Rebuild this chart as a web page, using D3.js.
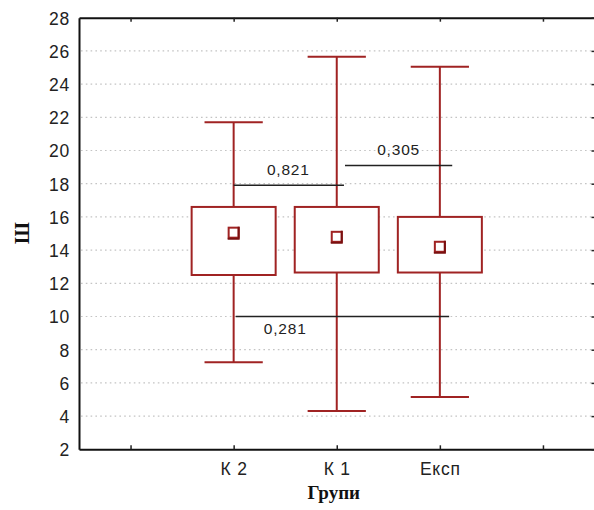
<!DOCTYPE html>
<html>
<head>
<meta charset="utf-8">
<script src="https://cdn.jsdelivr.net/npm/d3@7"></script>
<style>
  html, body { margin: 0; padding: 0; background: #fff; }
  svg { display: block; }
</style>
</head>
<body>
<svg id="chart" width="594" height="510"></svg>
<script>
// Groups and their summary statistics
const groups = ["К 2", "К 1", "Експ"];
const means = [15.05, 14.8, 14.2];
const boxLow = [12.5, 12.65, 12.65];
const boxHigh = [16.6, 16.6, 16.0];
const whiskerLow = [7.25, 4.3, 5.15];
const whiskerHigh = [21.7, 25.65, 25.05];

// Pairwise comparison p-values, the level their bracket is drawn at and its span (group units)
const pLabels = ["0,821", "0,305", "0,281"];
const pLevels = [17.9, 19.1, 10.0];
const pFrom = [2.0, 3.08, 2.02];
const pTo = [3.07, 4.12, 4.09];
const pLabelX = [2.53, 3.6, 2.5];
const pLabelY = [18.55, 19.75, 8.95];

const yTicks = [2, 4, 6, 8, 10, 12, 14, 16, 18, 20, 22, 24, 26, 28];
const xTicks = [1, 2, 3, 4, 5];

const boxColor = "#a02323";
const svg = d3.select("#chart");
const plotLeft = 79, plotRight = 594.5, plotTop = 17.7, plotBottom = 449.3;

const x = d3.scaleLinear().domain([0.5, 5.5]).range([plotLeft, plotRight]);
const y = d3.scaleLinear().domain([2, 28]).range([plotBottom, plotTop]);
const pos = i => x(i + 2);

// dotted horizontal grid
svg.append("g").selectAll("line")
  .data(yTicks.filter(t => t > 2 && t < 28))
  .join("line")
  .attr("x1", plotLeft + 2).attr("x2", plotRight - 3)
  .attr("y1", d => y(d)).attr("y2", d => y(d))
  .attr("stroke", "#c4c4c4").attr("stroke-width", 1.2)
  .attr("stroke-dasharray", "1.6,3.2");

// axes
const tickFmt = d => (d >= 2 && d <= 4) ? groups[d - 2] : "";
const yAxis = svg.append("g").attr("transform", `translate(${plotLeft},0)`)
  .call(d3.axisLeft(y).tickValues(yTicks).tickSize(0).tickPadding(9));
const xAxis = svg.append("g").attr("transform", `translate(0,${plotBottom})`)
  .call(d3.axisBottom(x).tickValues(xTicks).tickFormat(tickFmt).tickSizeInner(-4).tickSizeOuter(0).tickPadding(13));
const xTop = svg.append("g").attr("transform", `translate(0,${plotTop})`)
  .call(d3.axisTop(x).tickValues(xTicks).tickFormat("").tickSizeInner(-4).tickSizeOuter(0));
const yRight = svg.append("g").attr("transform", `translate(${plotRight},0)`)
  .call(d3.axisRight(y).tickValues(yTicks).tickFormat("").tickSizeInner(-3).tickSizeOuter(0));

[yAxis, xAxis, xTop, yRight].forEach(g => {
  g.select(".domain").attr("stroke", "#111").attr("stroke-width", 2);
  g.selectAll(".tick line").attr("stroke", "#222").attr("stroke-width", 1.5);
  g.selectAll("text").attr("fill", "#222")
    .style("font-family", "'Liberation Sans', Arial, sans-serif")
    .style("font-size", "17.5px")
    .style("letter-spacing", "0.8px");
});
yAxis.selectAll(".tick text").attr("dy", "0.36em");
xAxis.selectAll(".tick text").attr("dy", "0.71em");

// boxes and whiskers
const boxHalf = (x(1.815) - x(1)) / 2;
const capHalf = (x(1.565) - x(1)) / 2;
const g = svg.append("g");
groups.forEach((name, i) => {
  const cx = pos(i);
  g.append("line").attr("x1", cx).attr("x2", cx)
    .attr("y1", y(whiskerHigh[i])).attr("y2", y(boxHigh[i]))
    .attr("stroke", boxColor).attr("stroke-width", 2);
  g.append("line").attr("x1", cx).attr("x2", cx)
    .attr("y1", y(boxLow[i])).attr("y2", y(whiskerLow[i]))
    .attr("stroke", boxColor).attr("stroke-width", 2);
  [whiskerHigh[i], whiskerLow[i]].forEach(v => {
    g.append("line").attr("x1", cx - capHalf).attr("x2", cx + capHalf)
      .attr("y1", y(v)).attr("y2", y(v))
      .attr("stroke", boxColor).attr("stroke-width", 2);
  });
  g.append("rect")
    .attr("x", cx - boxHalf).attr("y", y(boxHigh[i]))
    .attr("width", boxHalf * 2).attr("height", y(boxLow[i]) - y(boxHigh[i]))
    .attr("fill", "#fff").attr("stroke", boxColor).attr("stroke-width", 2);
  // mean marker: small square with a darker shadow edge
  const my = y(means[i]);
  g.append("rect").attr("x", cx - 5).attr("y", my - 5).attr("width", 10).attr("height", 10)
    .attr("fill", "#fff").attr("stroke", boxColor).attr("stroke-width", 2);
  g.append("path").attr("d", `M${cx + 5},${my - 6}V${my + 6}H${cx - 6}`)
    .attr("fill", "none").attr("stroke", "#7a1010").attr("stroke-width", 2);
});

// comparison brackets with p-values
const comp = svg.append("g");
pLabels.forEach((lbl, i) => {
  comp.append("line")
    .attr("x1", x(pFrom[i])).attr("x2", x(pTo[i]))
    .attr("y1", y(pLevels[i])).attr("y2", y(pLevels[i]))
    .attr("stroke", "#222").attr("stroke-width", 1.5);
  comp.append("text")
    .attr("x", x(pLabelX[i])).attr("y", y(pLabelY[i]))
    .attr("text-anchor", "middle")
    .style("font-family", "'Liberation Sans', Arial, sans-serif")
    .style("font-size", "15.5px").style("letter-spacing", "0.8px").attr("fill", "#222")
    .text(lbl);
});

// axis titles
svg.append("text")
  .attr("transform", `translate(29,233) rotate(-90)`)
  .attr("text-anchor", "middle")
  .style("font-family", "'Liberation Serif', 'Times New Roman', serif")
  .style("font-weight", "bold").style("font-size", "20px").attr("fill", "#111")
  .text("Ш");
svg.append("text")
  .attr("x", (plotLeft + plotRight) / 2 - 3).attr("y", 499)
  .attr("text-anchor", "middle")
  .style("font-family", "'Liberation Serif', 'Times New Roman', serif")
  .style("font-weight", "bold").style("font-size", "19px").attr("fill", "#111")
  .text("Групи");
</script>
</body>
</html>
